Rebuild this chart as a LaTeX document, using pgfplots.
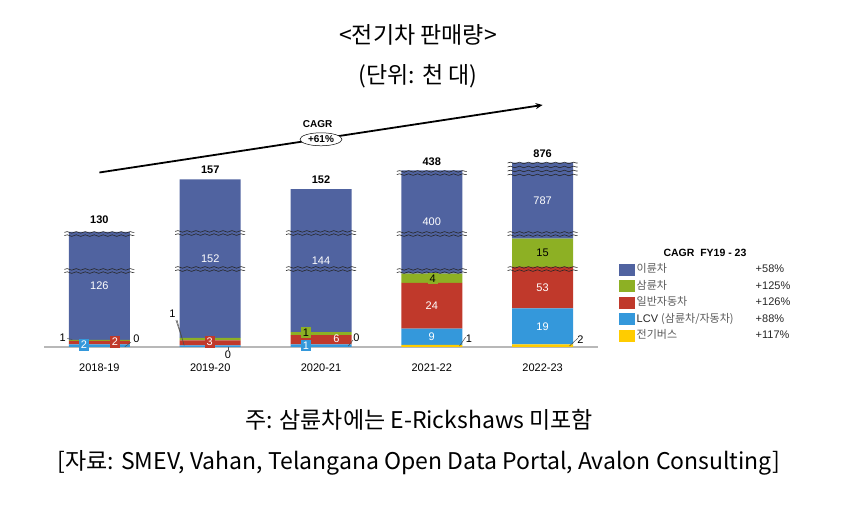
\documentclass[border=0pt]{standalone}
\usepackage{pgfplots}
\pgfplotsset{compat=1.18}
\usepackage{pgfplotstable}
\usepackage{fontspec}
\setmainfont{Liberation Sans}
\newfontfamily\kr{Noto Sans CJK KR}
\usetikzlibrary{decorations.pathmorphing,arrows.meta,shapes.geometric}

\definecolor{c2w}{RGB}{80,99,160}
\definecolor{c3w}{RGB}{141,176,36}
\definecolor{ccar}{RGB}{192,57,43}
\definecolor{clcv}{RGB}{52,152,219}
\definecolor{cbus}{RGB}{255,204,0}

% h* = drawn segment height (broken axis, in pt), v* = value (thousand units)
\pgfplotstableread{
x  h2w   h3w  hcar  hlcv  hbus  v2w v3w vcar vlcv vbus
0  108   1    3.5   2.5   0     126 1   2    2    0
1  158.7 2.5  5     1.5   0     152 1   3    1    0
2  143   3    9.3   2.5   0     144 1   6    1    0
3  103.3 9.3  45.7  16.3  2     400 4   24   9    1
4  76    28.3 41.3  36    2.7   787 15  53   19   2
}\datatable

\tikzset{
  lab/.style={font=\fontsize{11}{13}\selectfont, inner sep=1pt},
  box/.style={font=\fontsize{11}{13}\selectfont, inner sep=0pt, minimum width=10pt, minimum height=11.5pt},
  tot/.style={font=\bfseries\fontsize{11}{13}\selectfont, inner sep=0pt},
  lead/.style={draw=black!70, line width=0.5pt},
  wave/.style={black!85, line width=0.6pt, decorate, decoration={snake, amplitude=0.8pt, segment length=9pt}},
}
\newcommand\brkone[2]{%
  \draw[wave] ([xshift=-35pt]axis cs:#1,#2) -- ([xshift=35pt]axis cs:#1,#2);
}
\newcommand\brk[2]{\brkone{#1}{#2+1.6}\brkone{#1}{#2-1.6}}
\pgfplotsset{geom/.style={at={(44pt,158pt)}, anchor=south west,
  scale only axis, width=554pt, height=200pt,
  xmin=-0.5, xmax=4.5, ymin=0, ymax=200, clip=false}}

\begin{document}
\begin{tikzpicture}
\useasboundingbox (0,0) rectangle (865pt,505pt);
\begin{axis}[
  geom,
  ybar stacked, bar width=61pt,
  axis x line=bottom, axis y line=none,
  x axis line style={-, draw=black!28, line width=1.3pt},
  xtick={0,...,4},
  xticklabels={2018-19,2019-20,2020-21,2021-22,2022-23},
  major tick length=0pt,
  xticklabel style={font=\fontsize{11}{13}\selectfont, yshift=-13pt},
  /pgf/number format/assume math mode=true,
  point meta=explicit,
  visualization depends on={rawy \as \dh},
  nodes near coords={\pgfmathtruncatemacro\showlab{\dh>12}\ifnum\showlab=1 \pgfmathprintnumber{\pgfplotspointmeta}\fi},
  every node near coord/.append style={anchor=center, text=white, font=\fontsize{11}{13}\selectfont},
  legend style={at={(1.038,0.42)}, anchor=north west, draw=none, fill=none,
    font=\fontsize{11}{13}\selectfont, row sep=3pt, inner sep=0pt,
    nodes={inner sep=1.5pt, text height=8pt, text depth=2.5pt},
    cells={anchor=west}},
  legend image code/.code={\fill[#1] (0pt,-6pt) rectangle (16pt,6pt);},
  reverse legend,
]
\addplot[fill=cbus, draw=none] table[x=x, y=hbus, meta=vbus] \datatable;
\addplot[fill=clcv, draw=none] table[x=x, y=hlcv, meta=vlcv] \datatable;
\addplot[fill=ccar, draw=none] table[x=x, y=hcar, meta=vcar] \datatable;
\addplot[fill=c3w, draw=none, every node near coord/.append style={text=black}] table[x=x, y=h3w, meta=v3w] \datatable;
\addplot[fill=c2w, draw=none] table[x=x, y=h2w, meta=v2w] \datatable;
\addlegendentry{\makebox[119pt][l]{\kr\color{black!65}전기버스}\color{black!85}+117\%}
\addlegendentry{\makebox[119pt][l]{\color{black!85}LCV {\kr\color{black!65}(삼륜차/자동차)}}\color{black!85}+88\%}
\addlegendentry{\makebox[119pt][l]{\kr\color{black!65}일반자동차}\color{black!85}+126\%}
\addlegendentry{\makebox[119pt][l]{\kr\color{black!65}삼륜차}\color{black!85}+125\%}
\addlegendentry{\makebox[119pt][l]{\kr\color{black!65}이륜차}\color{black!85}+58\%}
\end{axis}

% annotation overlay with identical geometry
\begin{axis}[geom, hide axis]
% axis breaks
\brk{0}{113}\brk{0}{76}
\brk{1}{114}\brk{1}{78}
\brk{2}{114}\brk{2}{78}
\brk{3}{174}\brk{3}{113}\brk{3}{76}
\brkone{4}{184}\brkone{4}{180}\brkone{4}{176}\brkone{4}{172}\brk{4}{113}\brk{4}{78}

% totals
\node[tot] at (axis cs:0,127) {130};
\node[tot] at (axis cs:1,177) {157};
\node[tot] at (axis cs:2,167.7) {152};
\node[tot] at (axis cs:3,185.3) {438};
\node[tot] at (axis cs:4,193.7) {876};

% small segment labels
% 2018-19
\node[box, fill=clcv, text=white] at (axis cs:-0.14,2) {2};
\node[box, fill=ccar, text=white] at (axis cs:0.14,5) {2};
\draw[lead] (axis cs:-0.29,8.5) -- (axis cs:-0.245,7.5);
\node[lab] at (axis cs:-0.332,9.3) {1};
\draw[lead] (axis cs:0.284,4.7) -- (axis cs:0.23,0.3);
\node[lab] at (axis cs:0.335,8.7) {0};
% 2019-20
\draw[lead] (axis cs:0.70,27) -- (axis cs:0.765,1.5);
\draw[lead] (axis cs:0.69,27) -- (axis cs:0.745,9);
\node[lab] at (axis cs:0.66,33) {1};
\node[box, fill=ccar, text=white] at (axis cs:0.995,5) {3};
\draw[lead] (axis cs:1.16,0.3) -- (axis cs:1.16,-3);
\node[lab] at (axis cs:1.16,-8) {0};
% 2020-21
\node[box, fill=c3w, text=black] at (axis cs:1.864,14.7) {1};
\node[lab, text=white] at (axis cs:2.139,8.7) {6};
\node[box, fill=clcv, text=white] at (axis cs:1.864,1.5) {1};
\draw[lead] (axis cs:2.289,7) -- (axis cs:2.247,1);
\node[lab] at (axis cs:2.32,9) {0};
% 2021-22
\node[box, fill=c3w, text=black] at (axis cs:3.007,68.3) {4};
\draw[lead] (axis cs:3.305,9.7) -- (axis cs:3.25,1);
\node[lab] at (axis cs:3.335,8) {1};
% 2022-23
\draw[lead] (axis cs:4.317,8.7) -- (axis cs:4.243,1);
\node[lab] at (axis cs:4.342,7) {2};

% CAGR arrow
\draw[line width=1.8pt, -{Stealth[length=7pt,width=6pt]}] (axis cs:0,174.5) -- (axis cs:4,242);
\node[font=\bfseries\fontsize{10}{12}\selectfont, inner sep=0pt] at (axis cs:1.97,222.7) {CAGR};
\node[draw, line width=0.5pt, ellipse, fill=white, inner sep=0.5pt, minimum width=42pt, minimum height=13pt, font=\bfseries\fontsize{10}{12}\selectfont] at (axis cs:2,207.7) {+61\%};
\end{axis}

\node[font=\bfseries\fontsize{10.5}{12}\selectfont] at (705pt,252pt) {CAGR\ \ FY19 - 23};
\node[font=\kr\fontsize{23}{27}\selectfont] at (418pt,470pt) {<전기차 판매량>};
\node[font=\kr\fontsize{23}{27}\selectfont] at (418pt,429pt) {(단위: 천 대)};
\node[font=\kr\fontsize{23}{27}\selectfont] at (419pt,85pt) {주: 삼륜차에는 E-Rickshaws 미포함};
\node[font=\kr\fontsize{23}{27}\selectfont] at (419pt,42pt) {[자료: SMEV, Vahan, Telangana Open Data Portal, Avalon Consulting]};
\end{tikzpicture}
\end{document}
